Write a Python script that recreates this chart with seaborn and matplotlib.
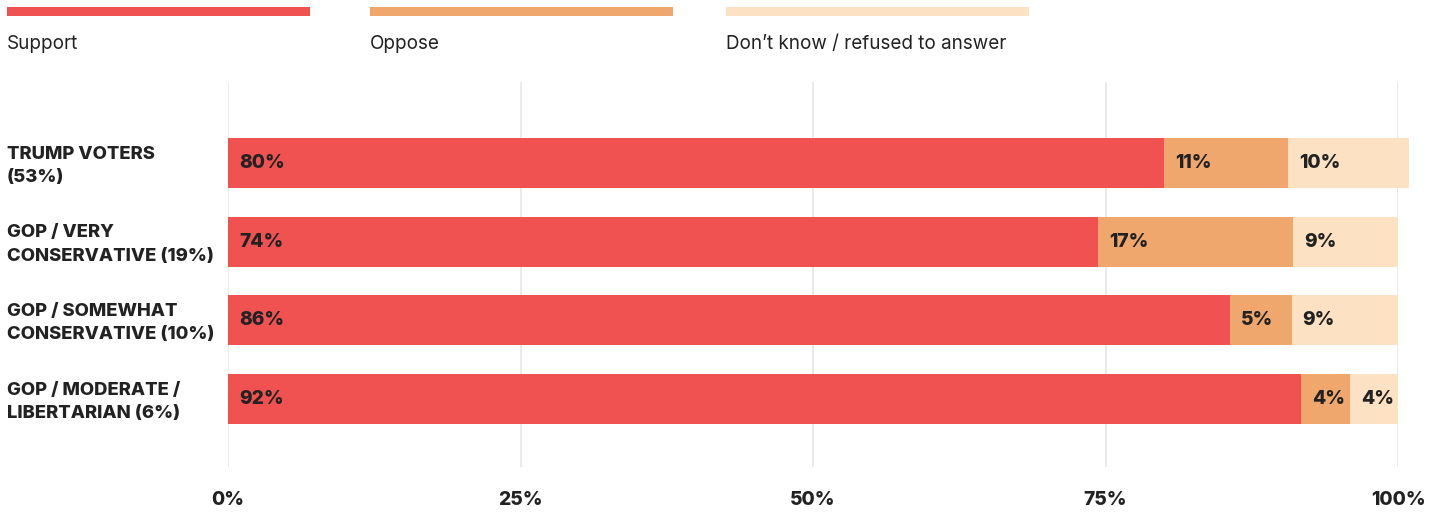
import matplotlib
matplotlib.use("Agg")
import matplotlib.pyplot as plt
import seaborn as sns
import pandas as pd
import numpy as np

categories = ["TRUMP VOTERS\n(53%)", "GOP / VERY\nCONSERVATIVE (19%)",
              "GOP / SOMEWHAT\nCONSERVATIVE (10%)", "GOP / MODERATE /\nLIBERTARIAN (6%)"]
support = [80.0, 74.4, 85.6, 91.7]
oppose = [10.6, 16.6, 5.3, 4.2]
dont_know = [10.3, 9.0, 9.1, 4.1]
series_names = ["Support", "Oppose", "Don\u2019t know / refused to answer"]
x_ticks = [0, 25, 50, 75, 100]
x_tick_labels = ["0%", "25%", "50%", "75%", "100%"]

colors = ["#F05252", "#EFA76E", "#FCE1C2"]
text_color = "#222222"

sns.set_theme(style="white")
plt.rcParams['font.family'] = ['Inter', 'DejaVu Sans']

W, H = 1442, 514
fig = plt.figure(figsize=(W / 100, H / 100), dpi=100)
ax = fig.add_axes([228 / W, (H - 467) / H, (1398 - 228) / W, (467 - 82) / H])

df = pd.DataFrame({"cat": categories, "s": support, "o": oppose, "d": dont_know})
df["c1"] = df["s"]
df["c2"] = df["s"] + df["o"]
df["c3"] = df["s"] + df["o"] + df["d"]

bar_w = 50 / 78.7
for col, c in zip(["c3", "c2", "c1"], colors[::-1]):
    sns.barplot(data=df, y="cat", x=col, orient="h", color=c, width=bar_w,
                saturation=1, ax=ax, linewidth=0, zorder=3)

ax.set_xlim(0, 100)
ax.set_ylim(3 + 68 / 78.7, -81 / 78.7)
ax.set_xlabel("")
ax.set_ylabel("")
ax.set_yticks([])
ax.set_xticks(x_ticks)
ax.set_xticklabels(x_tick_labels, fontsize=13.8, fontweight="heavy", color=text_color)
ax.tick_params(axis="x", length=0, pad=17)
for s in ax.spines.values():
    s.set_visible(False)
for xv in x_ticks:
    ax.axvline(xv, color="#E6E6E6", lw=1.2, zorder=1)
for p in ax.patches:
    p.set_clip_on(False)

# segment labels
for i in range(len(categories)):
    starts = [0, support[i], support[i] + oppose[i]]
    vals = [support[i], oppose[i], dont_know[i]]
    for st, v in zip(starts, vals):
        ax.annotate(f"{v:.0f}%", xy=(st, i), xytext=(8, 0), textcoords="offset points",
                    ha="left", va="center", fontsize=13.8, fontweight="heavy",
                    color=text_color, zorder=5, annotation_clip=False)

# category labels
for i, cat in enumerate(categories):
    ax.annotate(cat, xy=(0, i), xycoords=("figure pixels", "data"),
                xytext=(7 * 0.72, -2), textcoords="offset points",
                ha="left", va="center", fontsize=13.3, fontweight="heavy",
                color=text_color, linespacing=1.5, annotation_clip=False)

# legend
leg_x = [7, 370, 726]
for x0, name, c in zip(leg_x, series_names, colors):
    fig.patches.append(plt.Rectangle((x0 / W, (H - 16) / H), 303 / W, 9 / H,
                                     transform=fig.transFigure, color=c, lw=0))
    fig.text(x0 / W, (H - 44) / H, name, ha="left", va="center", fontsize=13.6,
             color=text_color)

fig.savefig("out.png", dpi=100)
